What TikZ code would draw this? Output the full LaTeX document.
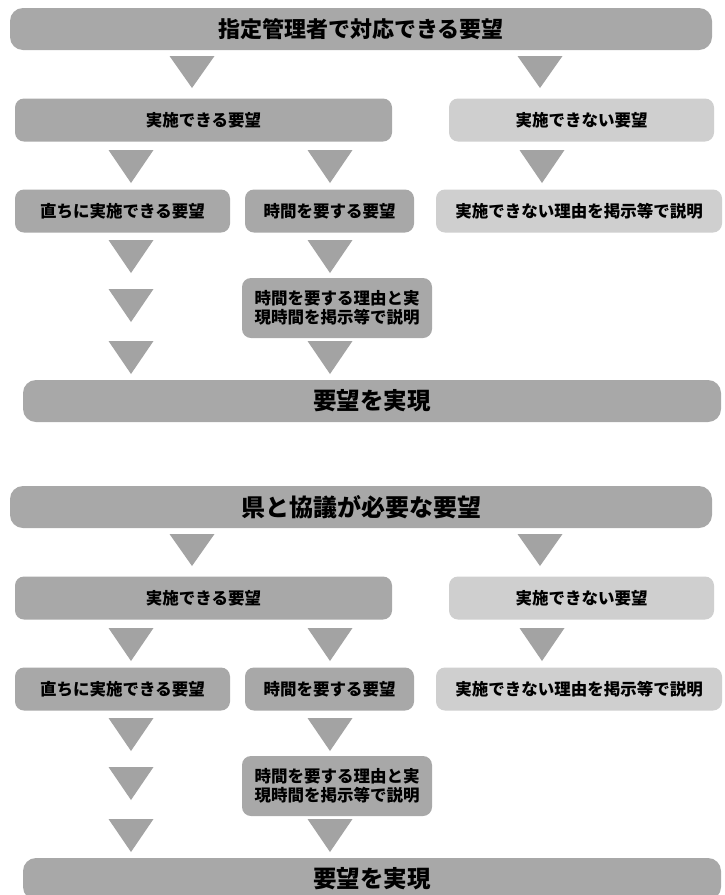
\documentclass[tikz,border=0pt]{standalone}
\usepackage{fontspec}
\setmainfont{Noto Sans CJK JP}
\colorlet{darkfill}{black!34}
\colorlet{lightfill}{black!19}
\tikzset{
  fbox/.style={rounded corners=9pt, fill=darkfill, inner sep=0pt, minimum height=43pt,
    text=black, font=\fontsize{16.5}{18.5}\selectfont\bfseries, align=center},
  lbox/.style={fbox, fill=lightfill},
  banner/.style={fbox, rounded corners=13pt, minimum height=42pt},
  tri/.style={fill=black!36}
}
\newcommand\dtri[3]{\fill[tri] (#1-22.5,#2) -- (#1+22.5,#2) -- (#1,#3) -- cycle;}
\newcommand\flowpart[3]{%
  \node[banner, minimum width=702pt, font=\fontsize{#3}{#3}\selectfont\bfseries] (#1top) at (361,29) {#2};
  \node[fbox, minimum width=377pt] (#1can) at (203.5,120) {実施できる要望};
  \node[lbox, minimum width=265pt] (#1cannot) at (581.5,120) {実施できない要望};
  \node[fbox, minimum width=215pt] (#1now) at (122.5,211) {直ちに実施できる要望};
  \node[fbox, minimum width=169pt] (#1time) at (329.5,211) {時間を要する要望};
  \node[lbox, minimum width=286pt] (#1why) at (579,211) {実施できない理由を掲示等で説明};
  \node[fbox, minimum width=190pt, minimum height=60pt] (#1expl) at (337,308) {時間を要する理由と実\\現時間を掲示等で説明};
  \node[banner, minimum width=698pt, font=\fontsize{23.5}{23.5}\selectfont\bfseries] (#1done) at (372,401) {要望を実現};
  \dtri{192}{56}{88}
  \dtri{540}{56}{88}
  \dtri{131}{150}{183}
  \dtri{330}{150}{183}
  \dtri{542}{150}{183}
  \dtri{131}{240}{273}
  \dtri{330}{240}{273}
  \dtri{131}{289}{322}
  \dtri{131}{341}{374}
  \dtri{330}{341}{374}
}
\begin{document}
\begin{tikzpicture}[x=1pt,y=-1pt]
\clip (0,0) rectangle (724,895);
\fill[white] (0,0) rectangle (724,895);
\flowpart{a}{指定管理者で対応できる要望}{22}
\begin{scope}[yshift=-478pt]
\flowpart{b}{県と協議が必要な要望}{24}
\end{scope}
\end{tikzpicture}
\end{document}
